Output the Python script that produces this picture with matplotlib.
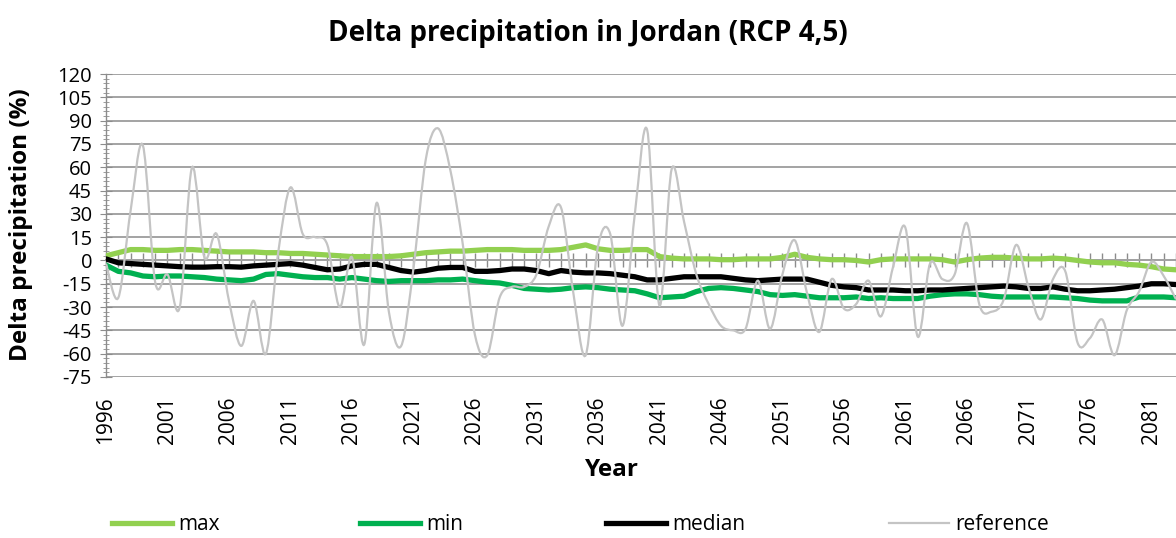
import numpy as np
import matplotlib
matplotlib.use("Agg")
import matplotlib.pyplot as plt
from matplotlib.path import Path
from matplotlib.patches import PathPatch
from matplotlib.lines import Line2D
from matplotlib.ticker import MultipleLocator

plt.rcParams['font.family'] = ['Open Sans', 'DejaVu Sans']
plt.rcParams['axes.unicode_minus'] = False

# ---------------- data ----------------
years = list(range(1996, 2084))

max_vals = [3, 5, 7, 7, 6.5, 6.5, 7, 7, 6.5, 6,
            5.5, 5.5, 5.5, 5, 5, 4.5, 4.5, 4, 3.5, 3,
            2.5, 2.5, 2.5, 2.5, 3, 4, 5, 5.5, 6, 6,
            6.5, 7, 7, 7, 6.5, 6.5, 6.5, 7, 8.5, 10,
            7.5, 6.5, 6.5, 7, 7, 2.5, 1.5, 1, 1, 1,
            0.5, 0.5, 1, 1, 1, 2, 4, 2, 1, 0.5,
            0.5, 0, -1, 0.5, 1, 1, 1, 1, 0.5, -1,
            0.5, 1.5, 2, 2, 1.5, 1, 1, 1.5, 1, 0,
            -1, -1.5, -1.5, -2.5, -3, -4, -5.5, -6]

min_vals = [-3, -7, -8, -10, -10.5, -10, -10, -10.5, -11, -12,
            -12.5, -13, -12, -9, -8.5, -9.5, -10.5, -11, -11, -12,
            -11, -12, -13, -13.5, -13, -13, -13, -12.5, -12.5, -12,
            -13, -14, -14.5, -16, -18, -18.5, -19, -18.5, -17.5, -17,
            -17.5, -18.5, -19, -19.5, -21.5, -24, -23.5, -23, -20, -18,
            -17.5, -18, -19, -20, -22, -22.5, -22, -23, -24, -24,
            -24, -23.5, -24.5, -24, -24.5, -24.5, -24.5, -23, -22, -21.5,
            -21.5, -22, -23, -23.5, -23.5, -23.5, -23.5, -23.5, -24, -24.5,
            -25.5, -26, -26, -26, -23.5, -23.5, -23.5, -24]

median_vals = [1, -1.5, -2, -2.5, -3, -3.5, -4, -4.3, -4.3, -4,
               -4, -4.3, -3.5, -3, -2.5, -2, -3, -4.5, -6, -5.5,
               -3.5, -2.5, -2.5, -4.5, -6.5, -7.5, -6.5, -5, -4.5, -4.5,
               -7, -7, -6.5, -5.5, -5.5, -6.5, -8.5, -6.5, -7.5, -8,
               -8, -8.5, -9.5, -10.5, -12.5, -12.5, -11.5, -10.5, -10.5, -10.5,
               -10.5, -11.5, -12.5, -13, -12.5, -12, -12, -12, -14, -16,
               -17, -17.5, -19, -19, -19, -19.5, -19.5, -19, -19, -18.5,
               -18, -17.5, -17, -16.5, -17, -18, -18, -17, -18.5, -19.5,
               -19.5, -19, -18.5, -17.5, -16.5, -15, -15, -15.5]

reference_vals = [-2, -24, 32, 74, -14, -9, -30, 60, 2, 17,
                  -26, -55, -26, -60, 5, 47, 17, 15, 10, -30,
                  2, -54, 37, -33, -55, -5, 65, 85, 58, 11,
                  -48, -61, -24, -17, -17, -9, 22, 34, -21, -61,
                  9, 17, -42, 30, 84, -29, 59, 25, -9, -28,
                  -42, -45, -44, -13, -44, -9, 13, -21, -46, -12,
                  -31, -28, -13, -36, -4, 21, -49, -2, -12, -9,
                  24, -28, -33, -25, 10, -17, -38, -12, -7, -53,
                  -50, -38, -61, -32, -20, -1, -10, -25]

x_label_years = list(range(1996, 2084, 5))
y_ticks = list(range(-75, 121, 15))

title = "Delta precipitation in Jordan (RCP 4,5)"
series_names = ["max", "min", "median", "reference"]

# ---------------- styles ----------------
c_max = '#92D050'
c_min = '#00B050'
c_med = '#000000'
c_ref = '#C4C4C4'
c_grid = '#A3A3A3'
c_axis = '#8C8C8C'

W, H = 1176, 538
fig = plt.figure(figsize=(W / 100, H / 100), dpi=100)
left, right, top, bottom = 106, 1176, 74, 377
ax = fig.add_axes([left / W, 1 - bottom / H, (right - left) / W, (bottom - top) / H])
ax.set_xlim(years[0], years[-1])
ax.set_ylim(y_ticks[0], y_ticks[-1])

# grid
ax.set_yticks(y_ticks)
ax.yaxis.set_minor_locator(MultipleLocator(3))
ax.yaxis.grid(True, color=c_grid, lw=1.4)
ax.set_axisbelow(True)
for s in ['top', 'right', 'bottom']:
    ax.spines[s].set_visible(False)
ax.spines['left'].set_color(c_axis)
ax.spines['left'].set_linewidth(1.0)
ax.tick_params(axis='y', which='major', direction='inout', length=8, color=c_axis,
               labelsize=14.5, pad=6)
ax.tick_params(axis='y', which='minor', direction='inout', length=5, color=c_axis)

ax.set_xticks(x_label_years)
ax.set_xticklabels([str(y) for y in x_label_years], rotation=90)
ax.tick_params(axis='x', length=0, labelsize=15, pad=14)

# axis line at zero with yearly ticks
zero_frac = (0 - y_ticks[0]) / (y_ticks[-1] - y_ticks[0])
sec = ax.secondary_xaxis(zero_frac)
sec.set_xticks(years)
sec.set_xticklabels([])
sec.tick_params(axis='x', direction='inout', length=10, width=1.0, color=c_axis,
                labeltop=False, labelbottom=False)
for s in sec.spines.values():
    s.set_color(c_axis)
    s.set_linewidth(1.4)

# series
ax.plot(years, max_vals, color=c_max, lw=3.8, solid_capstyle='round', zorder=3)
ax.plot(years, min_vals, color=c_min, lw=3.8, solid_capstyle='round', zorder=3)
ax.plot(years, median_vals, color=c_med, lw=3.8, solid_capstyle='round', zorder=4)

# smoothed reference line (Excel-like smoothing: Catmull-Rom as cubic Bezier)
xs = np.asarray(years, dtype=float)
ys = np.asarray(reference_vals, dtype=float)
pts = np.column_stack([xs, ys])
verts = [pts[0]]
codes = [Path.MOVETO]
n = len(pts)
for i in range(n - 1):
    p0 = pts[i - 1] if i > 0 else pts[i]
    p1 = pts[i]
    p2 = pts[i + 1]
    p3 = pts[i + 2] if i + 2 < n else pts[i + 1]
    c1 = p1 + (p2 - p0) / 6.0
    c2 = p2 - (p3 - p1) / 6.0
    verts += [c1, c2, p2]
    codes += [Path.CURVE4] * 3
ref_patch = PathPatch(Path(verts, codes), fill=False, edgecolor=c_ref, lw=1.6,
                      transform=ax.transData, zorder=5)
ax.add_patch(ref_patch)

# labels
fig.suptitle(title, x=0.5, y=1 - 33 / H, va='center', fontsize=20, fontweight='bold')
ax.set_ylabel("Delta precipitation (%)", fontsize=17.5, fontweight='bold')
ax.yaxis.set_label_coords((33 - left) / (right - left), (bottom - 225) / (bottom - top))
ax.set_xlabel("Year", fontsize=17.5, fontweight='bold')
ax.xaxis.set_label_coords((612 - left) / (right - left), -(458 - bottom) / (bottom - top))

# legend, one entry at a time to reproduce spacing
handles = [
    Line2D([], [], color=c_max, lw=3.8),
    Line2D([], [], color=c_min, lw=3.8),
    Line2D([], [], color=c_med, lw=3.8),
    Line2D([], [], color=c_ref, lw=1.6),
]
starts = [112, 360, 606, 889]
for h, name, x0 in zip(handles, series_names, starts):
    fig.legend(handles=[h], labels=[name], loc='center left',
               bbox_to_anchor=(x0 / W, 1 - 525 / H), frameon=False,
               fontsize=15, handlelength=2.9, handletextpad=0.3,
               borderpad=0, borderaxespad=0)

fig.savefig("out.png", dpi=100)
